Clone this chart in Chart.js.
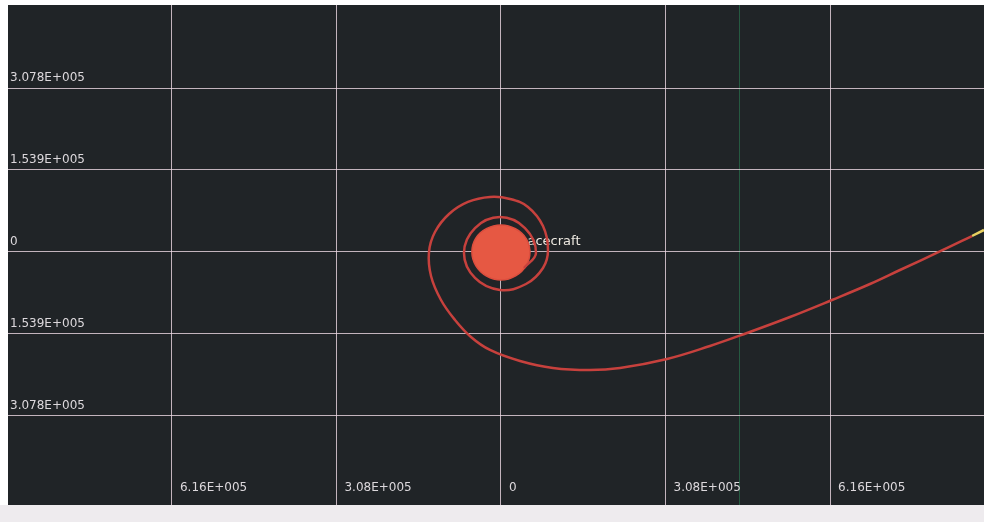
<!DOCTYPE html>
<html>
<head>
<meta charset="utf-8">
<script src="https://cdn.jsdelivr.net/npm/chart.js@4"></script>
<style>
	html, body { margin: 0; padding: 0; background: #fff; }
	#wrap { width: 984px; height: 522px; }
</style>
</head>
<body>
<div id="wrap"><canvas id="orbitchart" width="984" height="522"></canvas></div>
<script>
// axis ticks as printed on the plot
var xTickValues = [-616000, -308000, 0, 308000, 616000];
var xTickLabels = ["6.16E+005", "3.08E+005", "0", "3.08E+005", "6.16E+005"];
var yTickValues = [307800, 153900, 0, -153900, -307800];
var yTickLabels = ["3.078E+005", "1.539E+005", "0", "1.539E+005", "3.078E+005"];
var markerX = [447400];

// dense orbits around the origin (outline of the filled disc)
var blobX = [54300, 52400, 47200, 38600, 27000, 14000, 0, -14200, -27400, -38800, -47400, -52800, -54500, -52600, -47000, -38200, -27000, -14000, 0, 14200, 27400, 38600, 47000, 52400, 54300, 52400];
var blobY = [0, 13000, 25200, 35600, 43600, 48800, 50500, 48800, 43800, 36000, 25600, 13200, 0, -13400, -26000, -37000, -45200, -50600, -52600, -50600, -45000, -36600, -25800, -13200, 0, 13000];

// spiral out and escape leg
var trajX = [43100, 65500, 44900, -1900, -48700, -69300, -48700, -1900, 46800, 78600, 88000, 78600, 50500, 16800, -20600, -61800, -97300, -123600, -134800, -131000, -112300, -86100, -56200, -20600, 35600, 97300, 166600, 222800, 310800, 391200, 460500, 541000, 619600, 690800, 746900, 827400, 881700];
var trajY = [-30000, -1900, 45000, 65700, 45000, -1900, -48800, -71300, -60100, -30000, 3800, 48800, 84500, 99500, 103200, 93900, 71300, 37500, 0, -45000, -90100, -127600, -159500, -183900, -204600, -217700, -221500, -217700, -200800, -176400, -152000, -122000, -90100, -60100, -33800, 3800, 30000];

// latest part of the track
var tipX = [881700, 904200];
var tipY = [30000, 41300];

var label = "Spacecraft";

function pts(xs, ys) {
	return xs.map(function(x, i) { return {x: x, y: ys[i]}; });
}

var gridColor = "rgba(236, 216, 228, 0.8)";

var backdrop = {
	id: "backdrop",
	beforeDraw: function(chart) {
		var c = chart.ctx, a = chart.chartArea;
		c.save();
		c.fillStyle = "#ffffff";
		c.fillRect(0, 0, chart.width, chart.height);
		c.fillStyle = "#eeebee";
		c.fillRect(0, a.bottom, chart.width, chart.height - a.bottom);
		c.fillStyle = "#202427";
		c.fillRect(a.left, a.top, a.right - a.left, a.bottom - a.top);
		c.restore();
	},
	beforeDatasetsDraw: function(chart) {
		var c = chart.ctx;
		var x = chart.scales.x.getPixelForValue(0);
		var y = chart.scales.y.getPixelForValue(0);
		c.save();
		c.font = "13px 'DejaVu Sans'";
		c.fillStyle = "#ece8e0";
		c.textBaseline = "middle";
		c.fillText(label, x + 10, y - 10);
		c.restore();
	},
	afterDraw: function(chart) {
		var c = chart.ctx, a = chart.chartArea;
		var xs = chart.scales.x, ys = chart.scales.y;
		c.save();
		c.font = "12px 'DejaVu Sans'";
		c.fillStyle = "#dcd8dc";
		c.textBaseline = "bottom";
		yTickValues.forEach(function(v, i) {
			c.fillText(yTickLabels[i], a.left + 2, ys.getPixelForValue(v) - 4);
		});
		c.textBaseline = "middle";
		xTickValues.forEach(function(v, i) {
			c.fillText(xTickLabels[i], xs.getPixelForValue(v) + 8, 488);
		});
		c.restore();
	}
};

var orbitchart = {
	type: "scatter",
	data: {
		datasets: [
			{
				data: pts(trajX, trajY),
				showLine: true,
				borderColor: "#c7413d",
				borderWidth: 2.5,
				tension: 0.4,
				pointRadius: 0
			},
			{
				data: pts(blobX, blobY),
				showLine: true,
				fill: "shape",
				backgroundColor: "#e65843",
				borderColor: "#dc4e3e",
				borderWidth: 1.5,
				tension: 0.4,
				pointRadius: 0
			},
			{
				data: pts(tipX, tipY),
				showLine: true,
				borderColor: "#e8d060",
				borderWidth: 2.5,
				pointRadius: 0
			}
		]
	},
	options: {
		responsive: false,
		animation: false,
		devicePixelRatio: 1,
		layout: { padding: { left: 8, top: 5, right: 0, bottom: 17 } },
		plugins: {
			legend: { display: false },
			tooltip: { enabled: false }
		},
		scales: {
			x: {
				type: "linear",
				min: -922900,
				max: 904200,
				afterBuildTicks: function(axis) {
					axis.ticks = xTickValues.concat(markerX).map(function(v) { return {value: v}; });
				},
				ticks: { display: false },
				border: { display: false },
				grid: {
					drawTicks: false,
					lineWidth: 1,
					color: function(ctx) {
						return markerX.indexOf(ctx.tick.value) >= 0 ? "rgba(40, 100, 70, 0.85)" : gridColor;
					}
				}
			},
			y: {
				type: "linear",
				min: -474900,
				max: 463600,
				afterBuildTicks: function(axis) {
					axis.ticks = yTickValues.map(function(v) { return {value: v}; });
				},
				ticks: { display: false },
				border: { display: false },
				grid: { drawTicks: false, lineWidth: 1, color: gridColor }
			}
		}
	},
	plugins: [backdrop]
};

window.onload = function() {
	var ctx = document.getElementById("orbitchart").getContext("2d");
	window.myorbit = new Chart(ctx, orbitchart);
};
</script>
</body>
</html>
